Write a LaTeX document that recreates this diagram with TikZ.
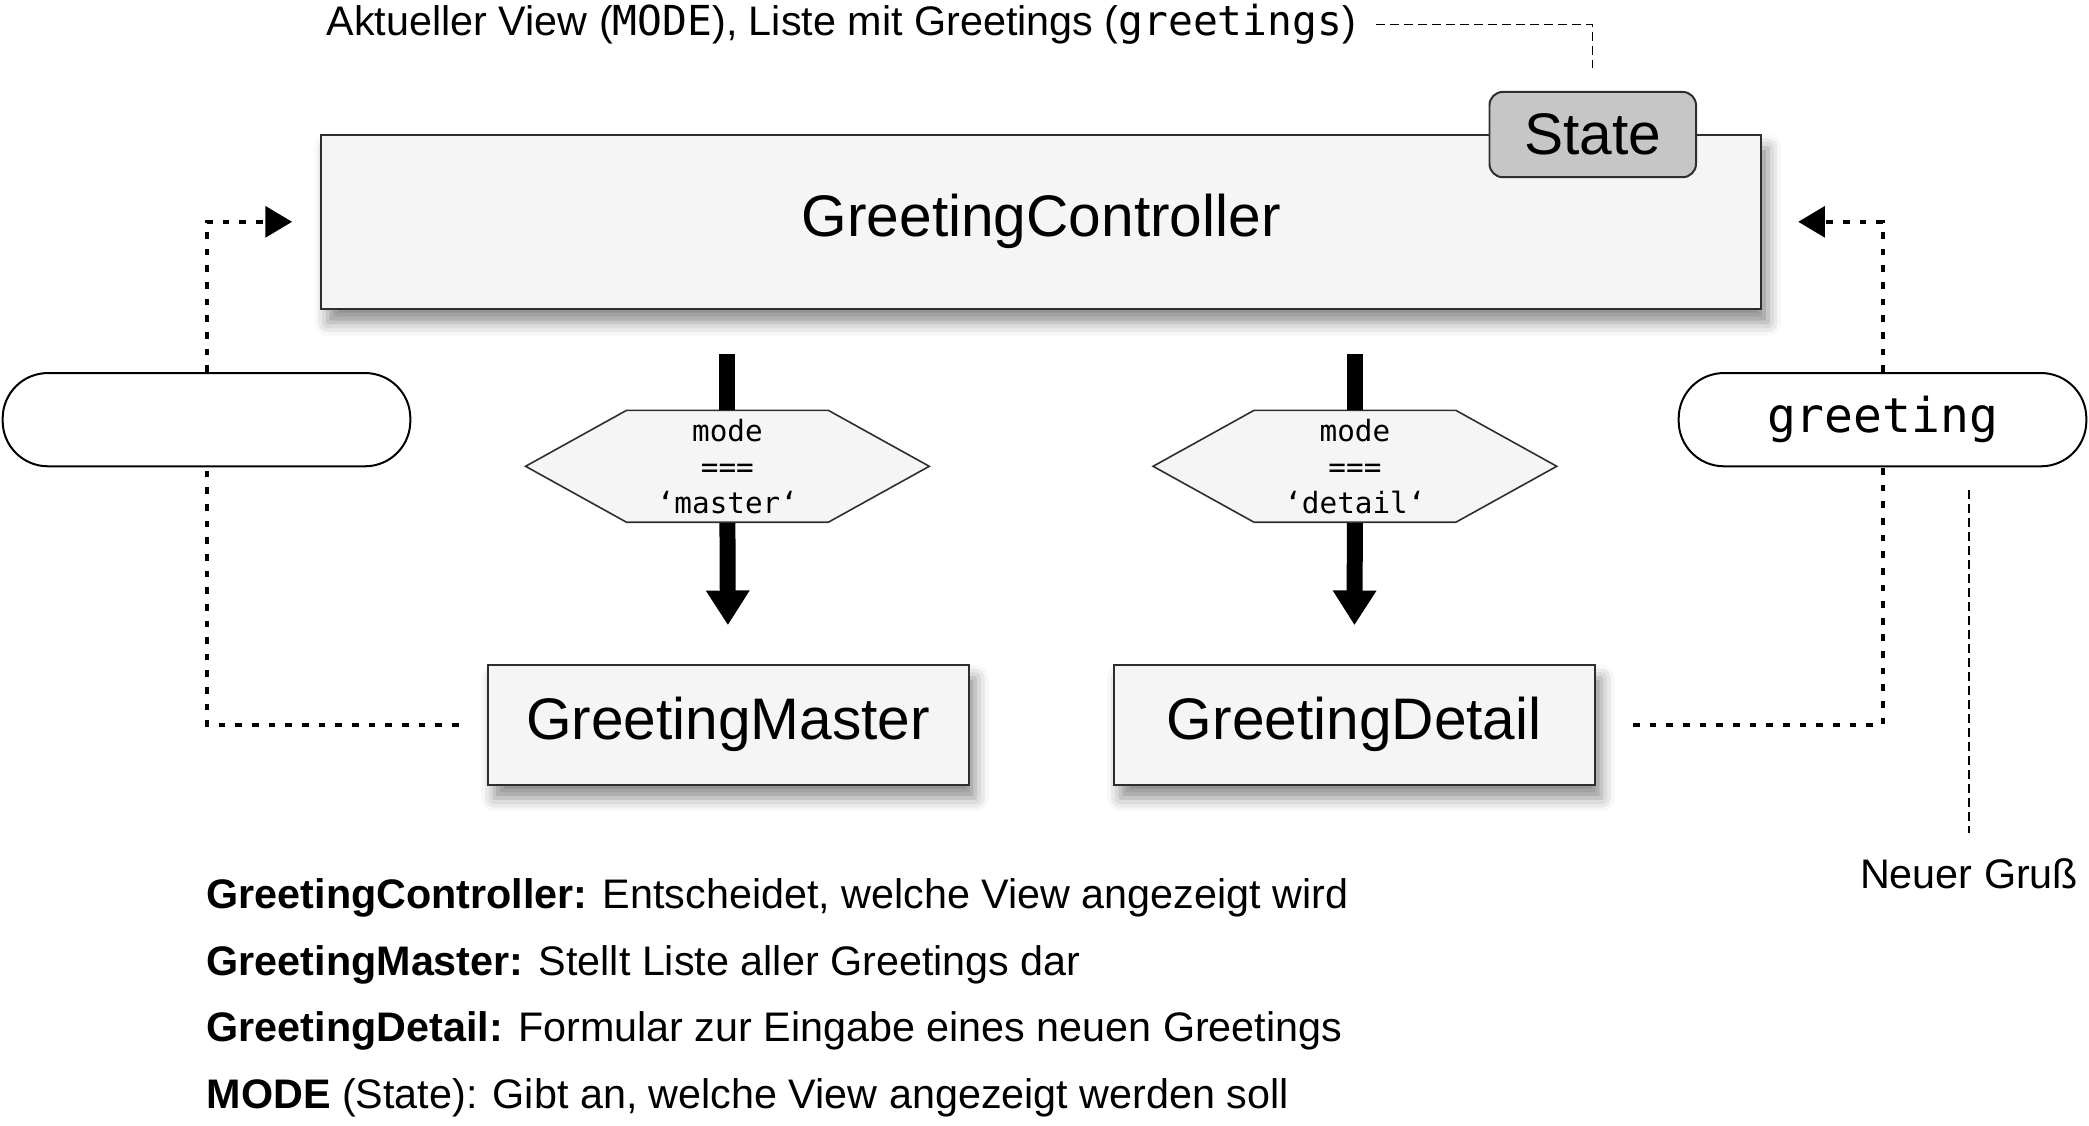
\documentclass[tikz,border=0pt]{standalone}
\usepackage{fontspec}
\setmainfont{Liberation Sans}
\setmonofont{DejaVu Sans Mono}
\usetikzlibrary{arrows.meta,shapes.symbols,shadows.blur,positioning}
\definecolor{boxfill}{HTML}{F5F5F5}
\definecolor{statefill}{HTML}{C6C6C6}
\definecolor{boxline}{HTML}{2E2E2E}

\begin{document}
\begin{tikzpicture}
[
    x=1pt, y=-1pt,
    component/.style={draw=boxline, line width=1.5pt, fill=boxfill, inner sep=0pt,
        blur shadow={shadow xshift=5pt, shadow yshift=-10pt, shadow blur radius=10pt, shadow opacity=45},
        font=\fontsize{44}{50}\selectfont},
    badge/.style={draw=boxline, line width=1.5pt, fill=statefill, rounded corners=10pt, inner sep=0pt,
        minimum width=155pt, minimum height=64pt, font=\fontsize{44}{50}\selectfont},
    guard/.style={shape=signal, signal to=east and west, signal pointer angle=58,
        draw=boxline, line width=1.2pt, fill=boxfill, inner sep=0pt,
        minimum width=303pt, minimum height=84pt, align=center, font=\fontsize{22}{27}\ttfamily},
    prop/.style={draw=black, line width=1.5pt, fill=white, rounded corners=34pt, inner sep=0pt,
        minimum width=306pt, minimum height=70pt, font=\fontsize{36}{40}\ttfamily},
    flow/.style={line width=3pt, dash pattern=on 5pt off 7.5pt},
    choice/.style={line width=12pt},
    note/.style={line width=1pt, dash pattern=on 6.5pt off 4pt},
    legend/.style={anchor=base west, inner sep=0pt, font=\fontsize{31}{36}\selectfont},
    tip/.style={-{Triangle[length=20pt, width=23pt]}},
]
\useasboundingbox (0,0) rectangle (1568,845);
\node [component, minimum width=1081pt, minimum height=131pt] (ctrl) at (781.5,166.5) {GreetingController};
\node [badge] (state) at (1195.5,101) {State};
\node [component, minimum width=361pt, minimum height=90pt] (master) at (546.5,544) {GreetingMaster};
\node [component, minimum width=361pt, minimum height=90pt] (detail) at (1016.5,544) {GreetingDetail};
\node [guard] (hexm) at (546,350) {mode\\===\\‘master‘};
\node [guard] (hexd) at (1017,350) {mode\\===\\‘detail‘};
\node [prop] (lin) at (155,315) {};
\node [prop] (rin) at (1413,315) {\raisebox{-3pt}{greeting}};
\node [legend] (view) at (245,27) {Aktueller View (\texttt{MODE}), Liste mit Greetings (\texttt{greetings})};
\node [legend, anchor=base] (neu) at (1478,667) {Neuer Gruß};
\coordinate (gruss) at (1478,368);

\draw [choice, shorten <=33pt] (hexm.north |- ctrl.south) -- (hexm.north);
\draw [choice, -{Triangle[length=26pt, width=31pt]}, shorten >=29pt] (hexm.south) -- (master.north);
\draw [choice, shorten <=33pt] (hexd.north |- ctrl.south) -- (hexd.north);
\draw [choice, -{Triangle[length=26pt, width=31pt]}, shorten >=29pt] (hexd.south) -- (detail.north);

\draw [flow, shorten <=21pt] (master.west) -| (lin.south);
\draw [flow, tip, shorten >=21pt] (lin.north) |- (ctrl.west);
\draw [flow, shorten <=28pt] (detail.east) -| (rin.south);
\draw [flow, tip, shorten >=27pt] (rin.north) |- (ctrl.east);

\draw [note, shorten <=15pt, shorten >=17pt] (view.east) -| (state.north);
\draw [note, shorten >=19pt] (gruss) -- (neu.north);

\node [legend] (lctrl) at (155,682) {\textbf{GreetingController:} Entscheidet, welche View angezeigt wird};
\node [legend] (lmaster) at (155,732) {\textbf{GreetingMaster:} Stellt Liste aller Greetings dar};
\node [legend] (ldetail) at (155,782) {\textbf{GreetingDetail:} Formular zur Eingabe eines neuen Greetings};
\node [legend] (lmode) at (155,832) {\textbf{MODE} (State): Gibt an, welche View angezeigt werden soll};
\end{tikzpicture}
\end{document}
